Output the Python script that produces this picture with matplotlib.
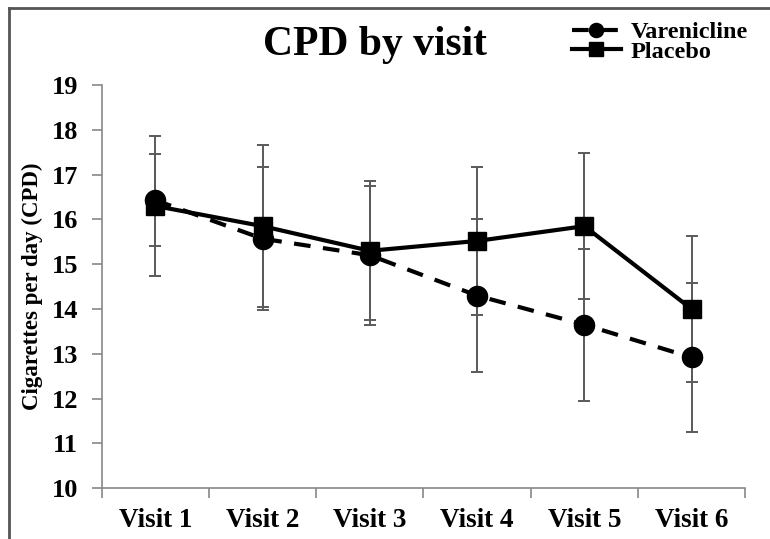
import matplotlib
matplotlib.use("Agg")
import matplotlib.pyplot as plt
from matplotlib.lines import Line2D
import numpy as np

plt.rcParams['font.family'] = ['Liberation Serif', 'DejaVu Serif']
plt.rcParams['font.weight'] = 'bold'

visits = ["Visit 1", "Visit 2", "Visit 3", "Visit 4", "Visit 5", "Visit 6"]
varenicline = [16.43, 15.57, 15.2, 14.3, 13.65, 12.92]
varenicline_err = [1.02, 1.6, 1.55, 1.7, 1.7, 1.66]
placebo = [16.3, 15.85, 15.3, 15.52, 15.85, 14.0]
placebo_err = [1.57, 1.8, 1.55, 1.66, 1.63, 1.63]
yticks = [10, 11, 12, 13, 14, 15, 16, 17, 18, 19]

W, H = 770, 539
fig = plt.figure(figsize=(W / 100, H / 100), dpi=100)
ax = fig.add_axes([101.7 / W, 1 - 488.3 / H, (745.3 - 101.7) / W, (488.3 - 85) / H])

x = np.arange(1, len(visits) + 1)
err_color = "#5a5a5a"
ax.errorbar(x, placebo, yerr=placebo_err, fmt='none', ecolor=err_color,
            elinewidth=1.4, capsize=4.5, capthick=1.4, zorder=1)
ax.errorbar(x, varenicline, yerr=varenicline_err, fmt='none', ecolor=err_color,
            elinewidth=1.4, capsize=4.5, capthick=1.4, zorder=1)

lv, = ax.plot(x, varenicline, color='black', lw=3, linestyle=(0, (4, 3)),
              marker='o', markersize=14.5, zorder=3, label='Varenicline')
lp, = ax.plot(x, placebo, color='black', lw=3, linestyle='-',
              marker='s', markersize=13.5, zorder=3, label='Placebo')

ax.set_xlim(0.5, len(visits) + 0.5)
ax.set_ylim(10, 19)
ax.set_yticks(yticks)
ax.set_yticklabels([str(t) for t in yticks], fontsize=19, fontweight='bold')
ax.set_xticks(x)
ax.set_xticklabels(visits, fontsize=19.5, fontweight='bold')
ax.set_xticks(np.arange(0.5, len(visits) + 1, 1.0), minor=True)
ax.tick_params(axis='x', which='major', length=0, pad=14)
ax.tick_params(axis='x', which='minor', length=7, color='#888888', width=1.2)
ax.tick_params(axis='y', which='major', length=7, color='#888888', width=1.2, pad=10)

for s in ['top', 'right']:
    ax.spines[s].set_visible(False)
for s in ['left', 'bottom']:
    ax.spines[s].set_color('#888888')
    ax.spines[s].set_linewidth(1.2)

ax.set_ylabel("Cigarettes per day (CPD)", fontsize=16.5, fontweight='bold', labelpad=6)

fig.text(374.5 / W, 1 - 45 / H, "CPD by visit", fontsize=30, fontweight='bold',
         ha='center', va='center')

leg = fig.legend(handles=[lv, lp], loc='upper left',
                 bbox_to_anchor=(572 / W, 1 - 21 / H), frameon=False,
                 fontsize=17.5, handlelength=2.0, handletextpad=0.4,
                 labelspacing=-0.1, markerscale=0.7, borderpad=0, borderaxespad=0)
for t in leg.get_texts():
    t.set_fontweight('bold')

# figure border (top and left visible)
fig.add_artist(Line2D([9 / W, 1], [1 - 7.5 / H, 1 - 7.5 / H], transform=fig.transFigure,
                      color='#555555', lw=2))
fig.add_artist(Line2D([9 / W, 9 / W], [0, 1 - 7.5 / H], transform=fig.transFigure,
                      color='#555555', lw=2))

fig.savefig("out.png", dpi=100)
